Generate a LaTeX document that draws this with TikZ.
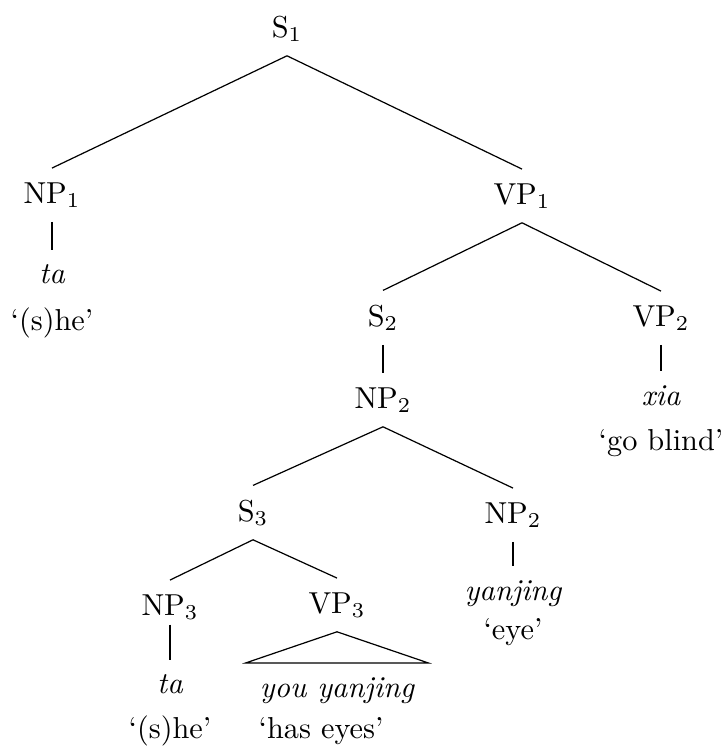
\documentclass[tikz,border=0pt]{standalone}
\usepackage{amsmath,amssymb}
\usepackage{tikz}
\usetikzlibrary{positioning}

\begin{document}
\begin{tikzpicture}[x=0.33pt,y=-0.33pt,
    cat/.style={anchor=base, inner sep=4.5pt},
    word/.style={anchor=base, inner sep=4.5pt, font=\itshape},
    gloss/.style={anchor=base, inner sep=1pt}]
  \useasboundingbox (0,0) rectangle (724,751);
  % ---- categories ----
  \node[cat] (s1)  at (287,37)  {S$_1$};
  \node[cat] (np1) at (52,203)  {NP$_1$};
  \node[cat] (vp1) at (522,204) {VP$_1$};
  \node[cat] (s2)  at (383,326) {S$_2$};
  \node[cat] (vp2) at (661,326) {VP$_2$};
  \node[cat] (np2) at (383,408) {NP$_2$};
  \node[cat] (s3)  at (253,521) {S$_3$};
  \node[cat] (np2r) at (513,523) {NP$_2$};
  \node[cat] (np3) at (170,615) {NP$_3$};
  \node[cat] (vp3) at (337,613) {VP$_3$};
  % ---- words and glosses ----
  \node[word] (ta1) at (52,283) {ta};
  \node[gloss] (g1) at (52,330) {`(s)he'};
  \node[word] (xia) at (661,405) {xia};
  \node[gloss] (g2) at (661,450) {`go blind'};
  \node[word] (yj) at (513,600) {yanjing};
  \node[gloss] (g3) at (513,639) {`eye'};
  \node[word] (ta2) at (170,693) {ta};
  \node[gloss] (g4) at (170,738) {`(s)he'};
  \node[word] (yy) at (337,697) {you yanjing};
  \node[gloss, anchor=base west] (g5) at (255,738) {`has eyes'};
  % ---- branches ----
  \draw (s1.south) -- (np1.north);
  \draw (s1.south) -- (vp1.north);
  \draw (np1.south) -- (ta1.north);
  \draw (vp1.south) -- (s2.north);
  \draw (vp1.south) -- (vp2.north);
  \draw (s2.south) -- (np2.north);
  \draw (vp2.south) -- (xia.north);
  \draw (np2.south) -- (s3.north);
  \draw (np2.south) -- (np2r.north);
  \draw (np2r.south) -- (yj.north);
  \draw (s3.south) -- (np3.north);
  \draw (s3.south) -- (vp3.north);
  \draw ([yshift=3pt]np3.south) -- (ta2.north);
  \draw (vp3.south) -- (yy.north east) -- (yy.north west) -- cycle;
\end{tikzpicture}
\end{document}
